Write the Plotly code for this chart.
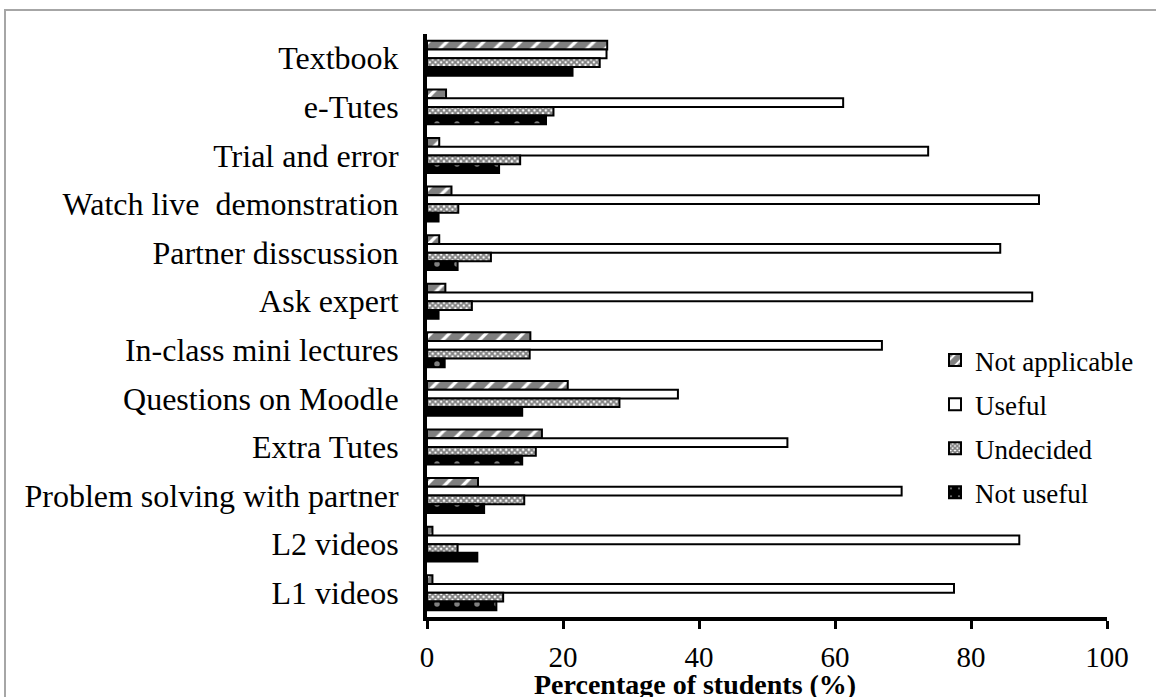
import plotly.graph_objects as go

categories = ["Textbook", "e-Tutes", "Trial and error", "Watch live\u00a0 demonstration",
              "Partner disscussion", "Ask expert", "In-class mini lectures",
              "Questions on Moodle", "Extra Tutes", "Problem solving with partner",
              "L2 videos", "L1 videos"]

not_applicable = [26.5, 2.8, 1.8, 3.6, 1.8, 2.7, 15.2, 20.7, 16.9, 7.5, 0.8, 0.8]
useful = [26.4, 61.2, 73.7, 90.0, 84.3, 89.0, 66.9, 36.9, 53.0, 69.8, 87.1, 77.5]
undecided = [25.4, 18.6, 13.7, 4.6, 9.4, 6.6, 15.1, 28.3, 16.0, 14.3, 4.5, 11.2]
not_useful = [21.4, 17.5, 10.6, 1.7, 4.5, 1.7, 2.6, 14.0, 14.0, 8.4, 7.4, 10.2]

x_ticks = [0, 20, 40, 60, 80, 100]

FONT = "Liberation Serif, Times New Roman, serif"

# plot-area geometry (pixels)
L, R, T, B = 427, 1107, 34, 617
W, H = 1156, 697
PW, PH = R - L, B - T

series = [
    ("Not applicable", not_applicable, "white",
     dict(shape="/", size=13, solidity=0.75, fgcolor="black", bgcolor="white")),
    ("Useful", useful, "white", None),
    ("Undecided", undecided, "white",
     dict(shape="x", size=4, solidity=0.7, fgcolor="black", bgcolor="white")),
    ("Not useful", not_useful, "black",
     dict(shape=".", size=20, solidity=0.06, fgcolor="white", bgcolor="black")),
]

fig = go.Figure()
for name, vals, color, pat in series:
    marker = dict(color=color, line=dict(color="black", width=2))
    if pat is not None:
        marker["pattern"] = pat
    fig.add_trace(go.Bar(
        y=categories, x=vals, name=name, orientation="h",
        marker=marker, legendgroup=name,
    ))

fig.update_layout(
    width=W, height=H,
    paper_bgcolor="white", plot_bgcolor="white",
    barmode="group", bargap=0.28, bargroupgap=0,
    margin=dict(l=L, r=W - R, t=T, b=H - B, autoexpand=False),
    font=dict(family=FONT, size=30, color="black"),
    legend=dict(x=(935 - L) / PW, y=(B - 336) / PH, xanchor="left", yanchor="top",
                font=dict(family=FONT, size=27, color="black"),
                traceorder="grouped", tracegroupgap=6,
                bgcolor="rgba(0,0,0,0)", itemwidth=30),
    showlegend=True,
)

fig.update_xaxes(
    range=[0, 100], tickvals=x_ticks, ticktext=[str(v) for v in x_ticks],
    showgrid=False, zeroline=False, automargin=False,
    showline=True, linecolor="black", linewidth=4,
    ticks="outside", ticklen=8, tickwidth=3, tickcolor="black",
    ticklabelstandoff=3,
    tickfont=dict(family=FONT, size=29),
)
fig.update_yaxes(
    autorange="reversed", showgrid=False, zeroline=False, automargin=False,
    showline=True, linecolor="black", linewidth=4,
    ticks="", ticklabelstandoff=18,
    tickfont=dict(family=FONT, size=32),
)

fig.add_annotation(
    text="<b>Percentage of students (%)</b>", xref="paper", yref="paper",
    x=(695 - L) / PW, y=(B - 684) / PH, xanchor="center", yanchor="middle",
    showarrow=False, font=dict(family=FONT, size=28, color="black"),
)

# outer grey frame of the original figure
fig.add_shape(type="rect", xref="paper", yref="paper",
              x0=(5 - L) / PW, x1=(1170 - L) / PW,
              y0=(B - 710) / PH, y1=(B - 10) / PH,
              line=dict(color="#a6a6a6", width=2), fillcolor="rgba(0,0,0,0)",
              layer="below")

fig.write_html("out.html", config={"displayModeBar": False},
               post_script="document.body.style.margin='0px';")
